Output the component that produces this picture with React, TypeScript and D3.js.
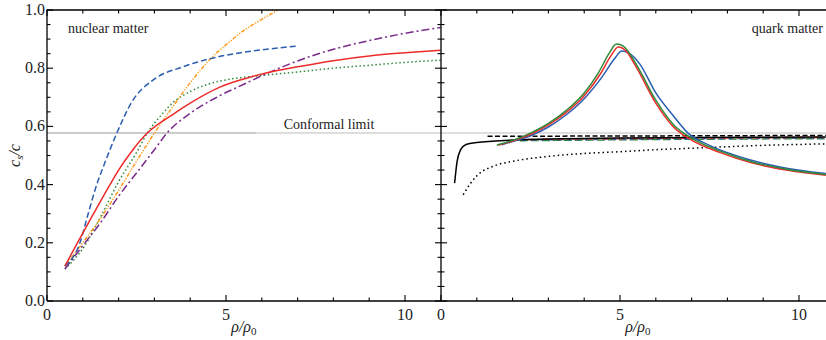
import React from 'react';
import * as d3 from 'd3';

// nuclear matter curves: [rho/rho0, cs/c]
const nucRed = [[0.5,0.12],[0.85,0.2],[1.3,0.3],[1.76,0.4],[2.0,0.45],[2.4,0.52],[2.8,0.577],[3.5,0.64],[4,0.68],[4.83,0.735],[5.5,0.763],[6.23,0.787],[7,0.805],[8,0.826],[9,0.842],[10,0.853],[11,0.862]];
const nucBlue = [[0.5,0.12],[0.92,0.2],[1.15,0.3],[1.39,0.4],[1.6,0.47],[1.95,0.577],[2.4,0.69],[2.97,0.76],[3.8,0.805],[4.64,0.835],[5.5,0.855],[6.5,0.87],[7,0.876]];
const nucOrange = [[0.5,0.12],[1,0.2],[1.5,0.285],[2,0.38],[2.5,0.48],[3,0.577],[3.5,0.665],[4,0.75],[4.55,0.83],[5,0.88],[5.5,0.93],[6,0.968],[6.45,1.0]];
const nucGreen = [[0.5,0.11],[1,0.18],[1.5,0.29],[2,0.41],[2.5,0.51],[2.8,0.577],[3.2,0.64],[3.5,0.68],[4,0.72],[4.5,0.745],[5,0.76],[6,0.775],[7,0.787],[8,0.8],[9,0.81],[10,0.82],[11,0.828]];
const nucPurple = [[0.5,0.11],[1,0.19],[1.5,0.27],[2,0.36],[2.5,0.44],[3,0.52],[3.35,0.577],[4,0.645],[4.74,0.7],[5.5,0.745],[6.2,0.785],[7,0.825],[8,0.865],[9,0.895],[10,0.92],[11,0.94]];

// quark matter curves
const qGreen = [[1.56,0.536],[2,0.552],[2.5,0.577],[3,0.61],[3.5,0.655],[4,0.715],[4.4,0.785],[4.7,0.852],[4.9,0.883],[5.1,0.875],[5.47,0.81],[6,0.69],[6.5,0.605],[7,0.56],[7.8,0.515],[8.7,0.478],[9.65,0.453],[10.75,0.435]];
const qRed = [[1.6,0.535],[2,0.55],[2.5,0.573],[3,0.605],[3.5,0.648],[4,0.705],[4.45,0.78],[4.75,0.843],[4.95,0.873],[5.15,0.862],[5.47,0.8],[6,0.68],[6.48,0.6],[7,0.553],[7.8,0.51],[8.7,0.474],[9.65,0.45],[10.75,0.432]];
const qBlue = [[1.7,0.537],[2,0.548],[2.5,0.568],[3,0.598],[3.5,0.64],[4,0.695],[4.5,0.77],[4.85,0.833],[5.05,0.859],[5.25,0.852],[5.55,0.815],[6,0.715],[6.5,0.635],[6.9,0.577],[7.5,0.535],[8.5,0.49],[9.5,0.46],[10.75,0.438]];
const qBlackSolid = [[0.38,0.405],[0.45,0.48],[0.55,0.52],[0.7,0.538],[1,0.545],[2,0.553],[3,0.557],[5,0.56],[7,0.562],[10.75,0.564]];
const qBlackDashed = [[1.3,0.566],[5,0.567],[10.75,0.569]];
const qBlackDotted = [[0.62,0.365],[0.8,0.4],[1,0.43],[1.5,0.465],[2,0.48],[3,0.497],[4,0.507],[5,0.513],[6,0.52],[7,0.525],[8,0.53],[9,0.535],[10,0.538],[10.75,0.54]];
const qGreenDashed = [[2.2,0.551],[6,0.555],[10.75,0.558]];
const qBlueDashed = [[2.0,0.553],[6,0.557],[10.75,0.56]];
const qRedDashDot = [[2.4,0.555],[6,0.559],[10.75,0.562]];

const conformal = 1 / Math.sqrt(3);
const yTicks = [0, 0.2, 0.4, 0.6, 0.8, 1.0];
const yMinor = d3.range(0, 21).map(i => i * 0.05);
const xTicks = [0, 5, 10];
const xMinor = d3.range(0, 11);

const W = 826, H = 340;
const yTop = 10, yBot = 301;
const leftX0 = 47, midX = 441;
const pxPerUnit = 35.8;
const font = 'Liberation Serif, Times New Roman, DejaVu Serif, serif';

const y = d3.scaleLinear().domain([0, 1]).range([yBot, yTop]);
const xL = d3.scaleLinear().domain([0, 11]).range([leftX0, leftX0 + 11 * pxPerUnit]);
const xR = d3.scaleLinear().domain([0, 11]).range([midX, midX + 11 * pxPerUnit]);

const lineFor = (x: any) => d3.line<number[]>().x(d => x(d[0])).y(d => y(d[1])).curve(d3.curveMonotoneX);

function curve(key: string, pts: number[][], x: any, color: string, dash?: string) {
  return <path key={key} d={lineFor(x)(pts) || ''} fill="none" stroke={color} strokeWidth={1.5} strokeDasharray={dash} />;
}

function tickLines(prefix: string, x: any, yLeft: number | null, yRight: number | null) {
  const out: any[] = [];
  yMinor.forEach((v, i) => {
    const len = i % 4 === 0 ? 6 : 3.5;
    if (yLeft !== null) out.push(<line key={prefix + 'yl' + i} x1={yLeft} x2={yLeft + len} y1={y(v)} y2={y(v)} stroke="#000" strokeWidth={1.1} />);
    if (yRight !== null) out.push(<line key={prefix + 'yr' + i} x1={yRight} x2={yRight - len} y1={y(v)} y2={y(v)} stroke="#000" strokeWidth={1.1} />);
  });
  xMinor.forEach(v => {
    const len = v % 5 === 0 ? 6 : 3.5;
    const px = x(v);
    out.push(<line key={prefix + 'xb' + v} x1={px} x2={px} y1={yBot} y2={yBot - len} stroke="#000" strokeWidth={1.1} />);
    out.push(<line key={prefix + 'xt' + v} x1={px} x2={px} y1={yTop} y2={yTop + len} stroke="#000" strokeWidth={1.1} />);
  });
  return out;
}

export default function App() {
  const leftEnd = xL(11);
  return (
    <svg width={W} height={H} style={{ position: 'absolute', left: 0, top: 0, background: '#fff' }} fontFamily={font} fill="#222">
      <defs>
        <clipPath id="clipL"><rect x={leftX0} y={yTop} width={leftEnd - leftX0} height={yBot - yTop} /></clipPath>
        <clipPath id="clipR"><rect x={midX} y={yTop} width={W - midX} height={yBot - yTop} /></clipPath>
      </defs>

      {/* conformal limit */}
      <line x1={leftX0} x2={256} y1={y(conformal)} y2={y(conformal)} stroke="#999" strokeWidth={1} />
      <line x1={256} x2={W} y1={y(conformal)} y2={y(conformal)} stroke="#bbb" strokeWidth={1} />
      <text x={329} y={y(conformal) - 4} fontSize={14} textAnchor="middle">Conformal limit</text>

      <g clipPath="url(#clipL)">
        {curve('ng', nucGreen, xL, '#2f8a3a', '1.5 2.5')}
        {curve('no', nucOrange, xL, '#ff9a1a', '4 1.5 1.2 1.5 1.2 1.5')}
        {curve('np', nucPurple, xL, '#7a2a8a', '8 3 2 3')}
        {curve('nb', nucBlue, xL, '#2a5db0', '6 3')}
        {curve('nr', nucRed, xL, '#ee2a2a')}
      </g>

      <g clipPath="url(#clipR)">
        {curve('qkd', qBlackDotted, xR, '#000', '1.5 3')}
        {curve('qgd', qGreenDashed, xR, '#2f8a3a', '8 3')}
        {curve('qbd', qBlueDashed, xR, '#2a5db0', '5 4')}
        {curve('qrd', qRedDashDot, xR, '#ee4040', '7 3 2 3')}
        {curve('qks', qBlackSolid, xR, '#000')}
        {curve('qkh', qBlackDashed, xR, '#000', '5 2.5')}
        {curve('qb', qBlue, xR, '#2a5db0')}
        {curve('qr', qRed, xR, '#ee2a2a')}
        {curve('qg', qGreen, xR, '#2f8a3a')}
      </g>

      <g>{tickLines('L', xL, leftX0, midX)}</g>
      <g>{tickLines('R', xR, midX, null)}</g>

      {/* frames */}
      <polyline points={`${leftX0},${yBot} ${leftX0},${yTop} ${W},${yTop}`} fill="none" stroke="#000" strokeWidth={1.3} />
      <line x1={leftX0} x2={W} y1={yBot} y2={yBot} stroke="#000" strokeWidth={1.3} />
      <line x1={midX} x2={midX} y1={yTop} y2={yBot} stroke="#000" strokeWidth={1.3} />

      {yTicks.map(v => (
        <text key={'yl' + v} x={leftX0 - 2} y={y(v) + 5} fontSize={16} textAnchor="end">{v.toFixed(1)}</text>
      ))}
      {xTicks.map(v => (
        <text key={'xl' + v} x={xL(v)} y={yBot + 19} fontSize={16} textAnchor="middle">{v}</text>
      ))}
      {xTicks.map(v => (
        <text key={'xr' + v} x={xR(v)} y={yBot + 19} fontSize={16} textAnchor="middle">{v}</text>
      ))}

      <text x={68} y={33} fontSize={14}>nuclear matter</text>
      <text x={823} y={33} fontSize={14} textAnchor="end">quark matter</text>

      <text transform={`translate(20,${y(0.5)}) rotate(-90)`} fontSize={16} fontStyle="italic" textAnchor="middle">
        c<tspan fontSize={11} dy={3}>s</tspan><tspan dy={-3}>/c</tspan>
      </text>
      <text x={xL(5.5)} y={332} fontSize={16} fontStyle="italic" textAnchor="middle">
        ρ/ρ<tspan fontSize={11} dy={3} fontStyle="normal">0</tspan>
      </text>
      <text x={xR(5.5)} y={332} fontSize={16} fontStyle="italic" textAnchor="middle">
        ρ/ρ<tspan fontSize={11} dy={3} fontStyle="normal">0</tspan>
      </text>
    </svg>
  );
}
